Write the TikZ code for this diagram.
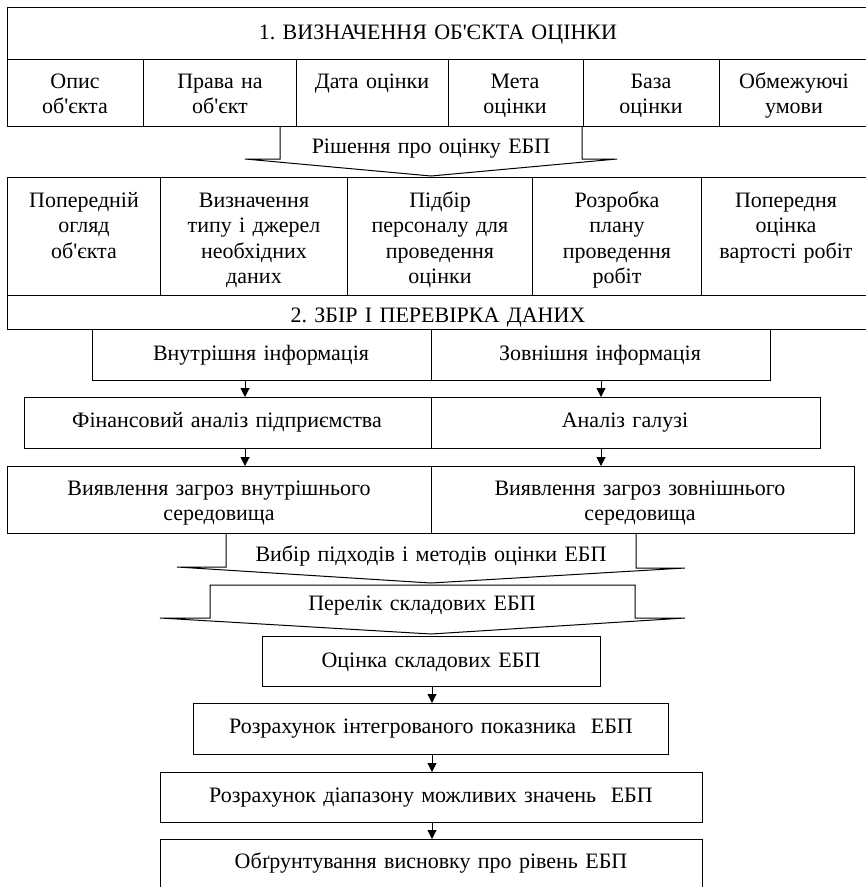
\documentclass[tikz,border=0pt]{standalone}
\usepackage{fontspec}
\setmainfont{Liberation Serif}[Ligatures=TeXOff]
\usetikzlibrary{arrows.meta}
\frenchspacing

% rectangle with a name, given by its corners (x1,y1) and (x2,y2)
\newcommand\cellbox[5]{%
  \node[box, minimum width={#4-#2}, minimum height={#5-#3}] (#1) at (#2,#3) {};}

\begin{document}
\begin{tikzpicture}[x=1pt, y=-1pt,
  box/.style={draw, line width=1pt, inner sep=0pt, outer sep=0pt, anchor=north west},
  txt/.style={anchor=base, inner sep=0pt, align=center, text width=640pt,
              font=\fontsize{22}{25.5}\selectfont},
  flow/.style={-{Triangle[length=9pt,width=9pt]}, line width=1pt},
  wide/.style={line width=1pt, line join=miter}]

\useasboundingbox (0,0) rectangle (866,887);
\clip (0,0) rectangle (866,887);

% ---- 1. object definition
\cellbox{title}{7}{7}{870}{59}
\node[txt] (title-t) at (438,39) {1. ВИЗНАЧЕННЯ ОБ'ЄКТА ОЦІНКИ};

\cellbox{a1}{7}{59}{143}{126}
\cellbox{a2}{143}{59}{296}{126}
\cellbox{a3}{296}{59}{448}{126}
\cellbox{a4}{448}{59}{583}{126}
\cellbox{a5}{583}{59}{719}{126}
\cellbox{a6}{719}{59}{870}{126}
\node[txt] (a1-t) at (75,88)  {Опис\\об'єкта};
\node[txt] (a2-t) at (220,88) {Права на\\об'єкт};
\node[txt] (a3-t) at (372,88) {Дата оцінки};
\node[txt] (a4-t) at (515,88) {Мета\\оцінки};
\node[txt] (a5-t) at (651,88) {База\\оцінки};
\node[txt] (a6-t) at (794,88) {Обмежуючі\\умови};

% ---- decision arrow
\coordinate (d1) at (280,126);
\coordinate (d2) at (582,126);
\coordinate (dtip) at (431,176);
\draw[wide] (d1) -- (280,159) -- (245,159) -- (dtip) -- (617,159) -- (582,159) -- (d2);
\node[txt] (d-t) at (431,153) {Рішення про оцінку ЕБП};

% ---- preparation steps
\cellbox{b1}{7}{177}{160}{295}
\cellbox{b2}{160}{177}{347}{295}
\cellbox{b3}{347}{177}{532}{295}
\cellbox{b4}{532}{177}{701}{295}
\cellbox{b5}{701}{177}{870}{295}
\node[txt] (b1-t) at (84,207)  {Попередній\\огляд\\об'єкта};
\node[txt] (b2-t) at (254,207) {Визначення\\типу і джерел\\необхідних\\даних};
\node[txt] (b3-t) at (440,207) {Підбір\\персоналу для\\проведення\\оцінки};
\node[txt] (b4-t) at (617,207) {Розробка\\плану\\проведення\\робіт};
\node[txt] (b5-t) at (786,207) {Попередня\\оцінка\\вартості робіт};

% ---- 2. data collection
\cellbox{bar}{7}{295}{870}{329}
\node[txt] (bar-t) at (438,322) {2. ЗБІР І ПЕРЕВІРКА ДАНИХ};

\cellbox{int}{92}{329}{431}{380}
\cellbox{ext}{431}{329}{770}{380}
\node[txt] (int-t) at (261,360) {Внутрішня інформація};
\node[txt] (ext-t) at (600,360) {Зовнішня інформація};

\cellbox{fin}{24}{397}{431}{448}
\cellbox{ind}{431}{397}{820}{448}
\node[txt] (fin-t) at (227,427) {Фінансовий аналіз підприємства};
\node[txt] (ind-t) at (625,427) {Аналіз галузі};

\cellbox{thi}{7}{466}{431}{533}
\cellbox{the}{431}{466}{854}{533}
\node[txt] (thi-t) at (219,495) {Виявлення загроз внутрішнього\\середовища};
\node[txt] (the-t) at (640,495) {Виявлення загроз зовнішнього\\середовища};

\coordinate (lx) at (245,0);
\coordinate (rx) at (601,0);
\draw[flow] (int.south -| lx) -- (fin.north -| lx);
\draw[flow] (fin.south -| lx) -- (thi.north -| lx);
\draw[flow] (ext.south -| rx) -- (ind.north -| rx);
\draw[flow] (ind.south -| rx) -- (the.north -| rx);

% ---- methods and components
\coordinate (v1) at (226,533);
\coordinate (v2) at (636,533);
\coordinate (vtip) at (431,583);
\draw[wide] (v1) -- (226,567) -- (177,567) -- (vtip) -- (685,568) -- (636,568) -- (v2);
\node[txt] (v-t) at (431,561) {Вибір підходів і методів оцінки ЕБП};

\coordinate (p1) at (210,585);
\coordinate (p2) at (635,585);
\coordinate (ptip) at (431,634);
\draw[wide] (p1) -- (p2) -- (635,618) -- (685,618) -- (ptip) -- (160,618) -- (210,618) -- cycle;
\node[txt] (p-t) at (422,610) {Перелік складових ЕБП};

% ---- evaluation chain
\cellbox{c1}{262}{636}{600}{686}
\cellbox{c2}{193}{703}{668}{754}
\cellbox{c3}{160}{772}{702}{822}
\cellbox{c4}{160}{839}{702}{900}
\node[txt] (c1-t) at (431,667) {Оцінка складових ЕБП};
\node[txt] (c2-t) at (431,733) {Розрахунок інтегрованого показника\ \ ЕБП};
\node[txt] (c3-t) at (431,802) {Розрахунок діапазону можливих значень\ \ ЕБП};
\node[txt] (c4-t) at (431,868) {Обґрунтування висновку про рівень ЕБП};

\coordinate (cx) at (432,0);
\draw[flow] (c1.south -| cx) -- (c2.north -| cx);
\draw[flow] (c2.south -| cx) -- (c3.north -| cx);
\draw[flow] (c3.south -| cx) -- (c4.north -| cx);

\end{tikzpicture}
\end{document}
